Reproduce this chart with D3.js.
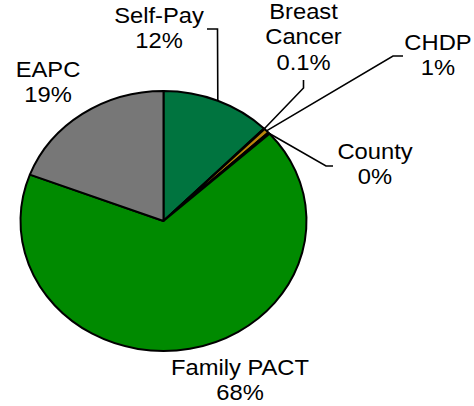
<!DOCTYPE html>
<html>
<head>
<meta charset="utf-8">
<script src="https://cdn.jsdelivr.net/npm/d3@7/dist/d3.min.js"></script>
<style>
  html, body { margin: 0; padding: 0; background: #ffffff; }
  svg { display: block; }
  text { font-family: Arial, "Liberation Sans", sans-serif; fill: #000; }
</style>
</head>
<body>
<svg id="chart" width="474" height="406"></svg>
<script>
// ---- data ----
const categories = ["Self-Pay", "Breast Cancer", "CHDP", "County", "Family PACT", "EAPC"];
const values = [12.4, 0.1, 0.6, 0.2, 67.5, 19.2];
const percentLabels = ["12%", "0.1%", "1%", "0%", "68%", "19%"];
const nameLines = [["Self-Pay"], ["Breast", "Cancer"], ["CHDP"], ["County"], ["Family PACT"], ["EAPC"]];
const colors = ["#00743F", "#E8A0B0", "#B8860B", "#A0A0A0", "#008A00", "#777777"];

// ---- layout ----
const W = 474, H = 406;
const cx = 163.5, cy = 221, R = 130, stretch = 1.1;
const fontSize = 22, lineH = 25.5, textStretch = 1.08;
// label placement: centre x, first baseline y, leader elbow points (outer first)
const labelPos = [
  { x: 159, y: 23, leader: [[207, 29], [217.5, 29]] },
  { x: 303.5, y: 19, leader: [[303.5, 80], [303.5, 88]] },
  { x: 438, y: 50, leader: [[403, 56], [393, 56]] },
  { x: 375, y: 159, leader: [[333, 166], [326, 166]] },
  { x: 240, y: 375, leader: null },
  { x: 48, y: 77, leader: null }
];

const svg = d3.select("#chart");

const pie = d3.pie().sort(null).value(d => d)(values);
const arc = d3.arc().innerRadius(0).outerRadius(R);

const g = svg.append("g")
  .attr("transform", `translate(${cx},${cy}) scale(${stretch},1)`);

g.selectAll("path.slice")
  .data(pie)
  .enter().append("path")
  .attr("class", "slice")
  .attr("d", arc)
  .attr("fill", (d, i) => colors[i])
  .attr("stroke", "#000")
  .attr("stroke-width", 2)
  .attr("stroke-linejoin", "round")
  .attr("vector-effect", "non-scaling-stroke");

// point on the (stretched) pie edge at the middle of a slice
function edgePoint(d) {
  const a = (d.startAngle + d.endAngle) / 2;
  return [cx + stretch * R * Math.sin(a), cy - R * Math.cos(a)];
}

// leader lines
pie.forEach((d, i) => {
  const lp = labelPos[i];
  if (!lp.leader) return;
  const pts = lp.leader.concat([edgePoint(d)]);
  svg.append("path")
    .attr("d", d3.line()(pts))
    .attr("fill", "none")
    .attr("stroke", "#000")
    .attr("stroke-width", 1.6);
});

// labels
categories.forEach((c, i) => {
  const lp = labelPos[i];
  const lines = nameLines[i].concat([percentLabels[i]]);
  const t = svg.append("text")
    .attr("text-anchor", "middle")
    .attr("font-size", fontSize)
    .attr("transform", `translate(${lp.x},${lp.y}) scale(${textStretch},1)`);
  lines.forEach((ln, k) => {
    t.append("tspan").attr("x", 0).attr("y", k * lineH).text(ln);
  });
});
</script>
</body>
</html>
